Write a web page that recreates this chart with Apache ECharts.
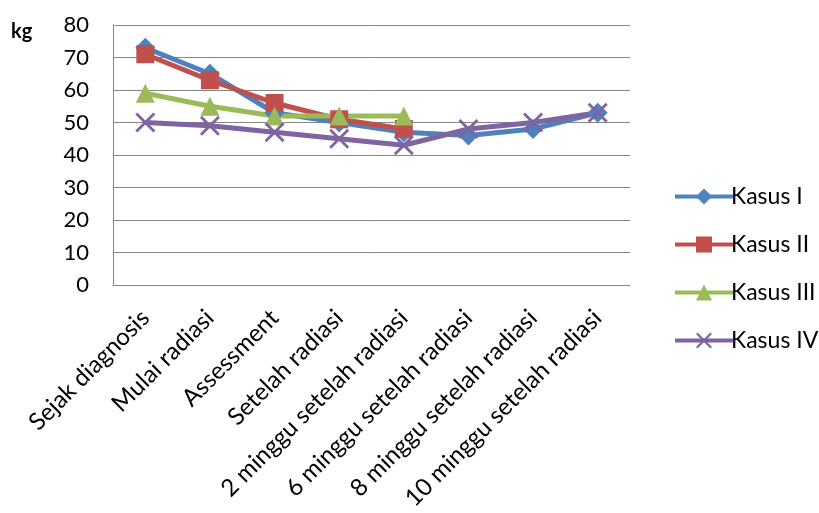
<!DOCTYPE html>
<html><head><meta charset="utf-8">
<script src="https://cdn.jsdelivr.net/npm/echarts@6/dist/echarts.min.js"></script>
<style>html,body{margin:0;padding:0;background:#fff}#c{width:819px;height:513px}</style>
</head><body><div id="c"></div>
<script>
const categories = ["Sejak diagnosis","Mulai radiasi","Assessment","Setelah radiasi","2 minggu setelah radiasi","6 minggu setelah radiasi","8 minggu setelah radiasi","10 minggu setelah radiasi"];
const kasusI = [73,65,53,50,47,46,48,53];
const kasusII = [71,63,56,51,48];
const kasusIII = [59,55,52,52,52];
const kasusIV = [50,49,47,45,43,48,50,53];
const seriesNames = ["Kasus I","Kasus II","Kasus III","Kasus IV"];
const yTicks = [0,10,20,30,40,50,60,70,80];

const FONT = 'Lato, "Open Sans", sans-serif';
const xPath = 'path://M0,1 L1,0 L5,4 L9,0 L10,1 L6,5 L10,9 L9,10 L5,6 L1,10 L0,9 L4,5 Z';
const chart = echarts.init(document.getElementById('c'));
function mk(name, data, color, symbol, size){
  return {name, type:'line', data, symbol, symbolSize:size, showAllSymbol:true,
    lineStyle:{width:5,color}, itemStyle:{color}, emphasis:{disabled:true}, z: 2};
}
chart.setOption({
  animation:false,
  backgroundColor:'#fff',
  graphic:[{type:'text', left:11, top:22, style:{text:'kg', font:'bold 20px '+FONT, fill:'#000'}}],
  grid:{left:113, top:25, right:189, bottom:226, containLabel:false},
  legend:{orient:'vertical', left:668, top:180, itemGap:25, itemWidth:58, itemHeight:20,
    lineStyle:{width:4},
    textStyle:{fontFamily:FONT, fontSize:23, color:'#000', padding:[0,0,0,-7]},
    data:seriesNames},
  xAxis:{type:'category', data:categories, boundaryGap:true,
    axisLine:{lineStyle:{color:'#868686', width:1}}, axisTick:{show:false},
    axisLabel:{rotate:45, fontFamily:FONT, fontSize:24, color:'#000', margin:29, interval:0}},
  yAxis:{type:'value', min:0, max:80, interval:10,
    axisLine:{show:true, lineStyle:{color:'#868686'}}, axisTick:{show:false},
    splitLine:{lineStyle:{color:'#868686', width:1}},
    axisLabel:{fontFamily:FONT, fontSize:22, color:'#000', margin:24,
      formatter:v=>yTicks.includes(v)?String(v):''}},
  series:[
    mk(seriesNames[0], kasusI, '#4F81BD', 'diamond', 20),
    mk(seriesNames[1], kasusII, '#C0504D', 'rect', 18),
    mk(seriesNames[2], kasusIII, '#9BBB59', 'triangle', 19),
    mk(seriesNames[3], kasusIV, '#8064A2', xPath, 20)
  ]
});
</script></body></html>
